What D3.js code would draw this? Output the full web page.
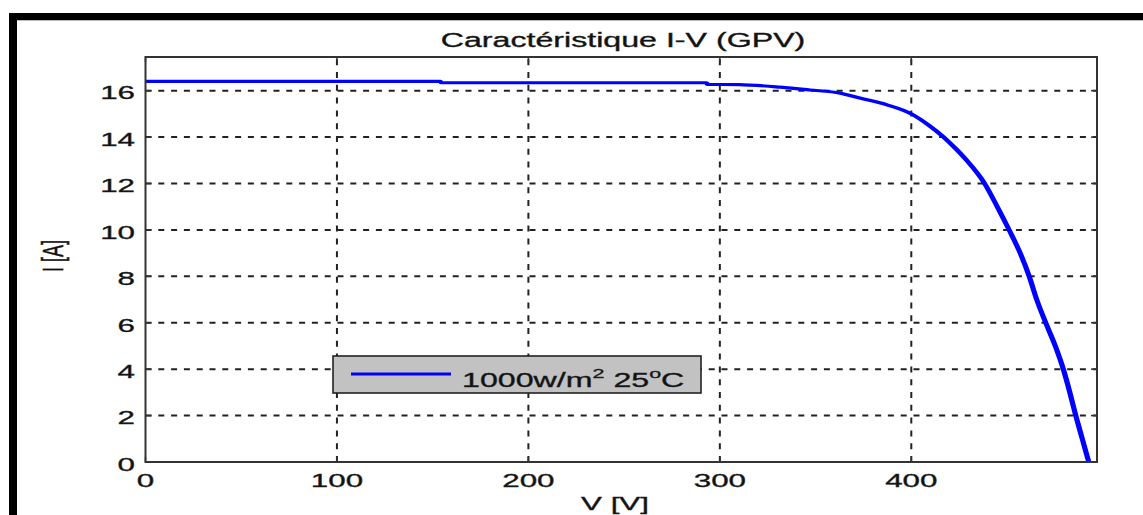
<!DOCTYPE html>
<html>
<head>
<meta charset="utf-8">
<script src="https://cdn.jsdelivr.net/npm/d3@7"></script>
<style>
  html, body { margin: 0; padding: 0; background: #fff; overflow: hidden; }
  svg text { font-family: "Liberation Sans", Arial, Helvetica, sans-serif; fill: #111; stroke: #222; stroke-width: 0.35px; }
</style>
</head>
<body>
<svg id="chart" width="1143" height="515"></svg>
<script>
// I-V characteristic of the PV generator (1000 W/m², 25 °C)
const voltage = [0, 154, 154.5, 293, 293.5, 310, 331.6, 347, 363, 373, 387.3, 400.0, 409.3, 416.9, 423.2, 428.9, 438.3, 444.9, 451.1, 456.9, 461.6, 465.5, 470.2, 475.2, 479.4, 482.8, 485.9, 489.3, 492.7];
const current = [16.40, 16.40, 16.34, 16.34, 16.27, 16.26, 16.15, 16.03, 15.89, 15.68, 15.39, 15.00, 14.50, 14.00, 13.50, 13.00, 12.00, 11.00, 10.00, 9.00, 8.00, 7.00, 6.00, 5.00, 4.00, 3.00, 2.00, 1.00, 0];
const xTicks = [0, 100, 200, 300, 400];
const yTicks = [0, 2, 4, 6, 8, 10, 12, 14, 16];
const xDomain = [0, 497];
const yDomain = [0, 17.45];
const titleText = "Caractéristique I-V  (GPV)";
const xLabelText = "V [V]";
const yLabelText = "I [A]";
const legendParts = [
  { t: "1000w/m", sup: false },
  { t: "2", sup: true },
  { t: " 25", sup: false },
  { t: "o", sup: true },
  { t: "C", sup: false }
];

const svg = d3.select("#chart");
const k = 1.65;              // horizontal stretch of the exported figure
const plot = { left: 145.5, right: 1097, top: 57, bottom: 462 };

const x = d3.scaleLinear().domain(xDomain).range([plot.left, plot.right]);
const y = d3.scaleLinear().domain(yDomain).range([plot.bottom, plot.top]);
// same x mapping expressed in the unstretched frame
const xs = d3.scaleLinear().domain(xDomain).range([plot.left / k, plot.right / k]);

// figure frame (top and left edges)
svg.append("rect").attr("x", 9).attr("y", 13).attr("width", 1134).attr("height", 7).attr("fill", "#000");
svg.append("rect").attr("x", 9).attr("y", 13).attr("width", 8).attr("height", 502).attr("fill", "#000");
svg.append("line").attr("x1", 17).attr("x2", 1143).attr("y1", 20.5).attr("y2", 20.5)
  .attr("stroke", "#bbb").attr("stroke-width", 1);

// grid
const grid = svg.append("g").attr("stroke", "#222").attr("stroke-width", 2)
  .attr("stroke-dasharray", "6,6.8").attr("fill", "none");
grid.selectAll("line.v").data(xTicks.filter(d => d > 0)).join("line")
  .attr("class", "v")
  .attr("x1", d => x(d)).attr("x2", d => x(d))
  .attr("y1", plot.bottom).attr("y2", plot.top);
grid.selectAll("line.h").data(yTicks.filter(d => d > 0)).join("line")
  .attr("class", "h")
  .attr("x1", plot.left).attr("x2", plot.right)
  .attr("y1", d => y(d)).attr("y2", d => y(d));

// inner tick marks on all four sides
const ticks = svg.append("g").attr("stroke", "#333").attr("stroke-width", 1.5);
xTicks.forEach(d => {
  ticks.append("line").attr("x1", x(d)).attr("x2", x(d)).attr("y1", plot.bottom).attr("y2", plot.bottom - 5);
  ticks.append("line").attr("x1", x(d)).attr("x2", x(d)).attr("y1", plot.top).attr("y2", plot.top + 5);
});
yTicks.forEach(d => {
  ticks.append("line").attr("x1", plot.left).attr("x2", plot.left + 6).attr("y1", y(d)).attr("y2", y(d));
  ticks.append("line").attr("x1", plot.right).attr("x2", plot.right - 6).attr("y1", y(d)).attr("y2", y(d));
});

// curve, drawn in the unstretched frame then stretched with the figure
const pts = voltage.map((v, i) => [v, current[i]]);
const line = d3.line().curve(d3.curveMonotoneX).x(d => xs(d[0])).y(d => y(d[1]));
svg.append("g").attr("transform", `scale(${k},1)`)
  .append("path").datum(pts)
  .attr("d", line)
  .attr("fill", "none")
  .attr("stroke", "#0000ff")
  .attr("stroke-width", 3.2)
  .attr("stroke-linejoin", "round");

// axes box
svg.append("rect")
  .attr("x", plot.left).attr("y", plot.top)
  .attr("width", plot.right - plot.left).attr("height", plot.bottom - plot.top)
  .attr("fill", "none").attr("stroke", "#333").attr("stroke-width", 2);

// helper for horizontally stretched text
function stext(px, py, str, size, anchor) {
  return svg.append("text")
    .attr("transform", `translate(${px},${py}) scale(${k},1)`)
    .attr("text-anchor", anchor || "middle")
    .attr("font-size", size)
    .text(str);
}

// tick labels
xTicks.forEach(d => stext(x(d), 487, d, 19, "middle"));
yTicks.forEach(d => stext(135, y(d) + 8.8, d, 19, "end"));

// title and axis labels
stext(623, 46.5, titleText, 19.5, "middle");
stext(615, 510, xLabelText, 19, "middle");
svg.append("text")
  .attr("transform", `translate(63,256) scale(${k},1) rotate(-90)`)
  .attr("text-anchor", "middle")
  .attr("font-size", 18)
  .text(yLabelText);

// legend
const lg = { x: 333, y: 356, w: 368, h: 37 };
svg.append("rect")
  .attr("x", lg.x).attr("y", lg.y).attr("width", lg.w).attr("height", lg.h)
  .attr("fill", "#c2c2c2").attr("stroke", "#222").attr("stroke-width", 1.6);
svg.append("line")
  .attr("x1", 351).attr("x2", 451).attr("y1", 374).attr("y2", 374)
  .attr("stroke", "#0000ff").attr("stroke-width", 3);
const lt = svg.append("text")
  .attr("transform", `translate(462,386.5) scale(${k},1)`)
  .attr("font-size", 19.5);
legendParts.forEach(p => {
  const ts = lt.append("tspan").text(p.t);
  if (p.sup) ts.attr("font-size", 13).attr("dy", -9);
  else ts.attr("dy", lt.selectAll("tspan").size() > 1 ? 9 : 0);
});
</script>
</body>
</html>
